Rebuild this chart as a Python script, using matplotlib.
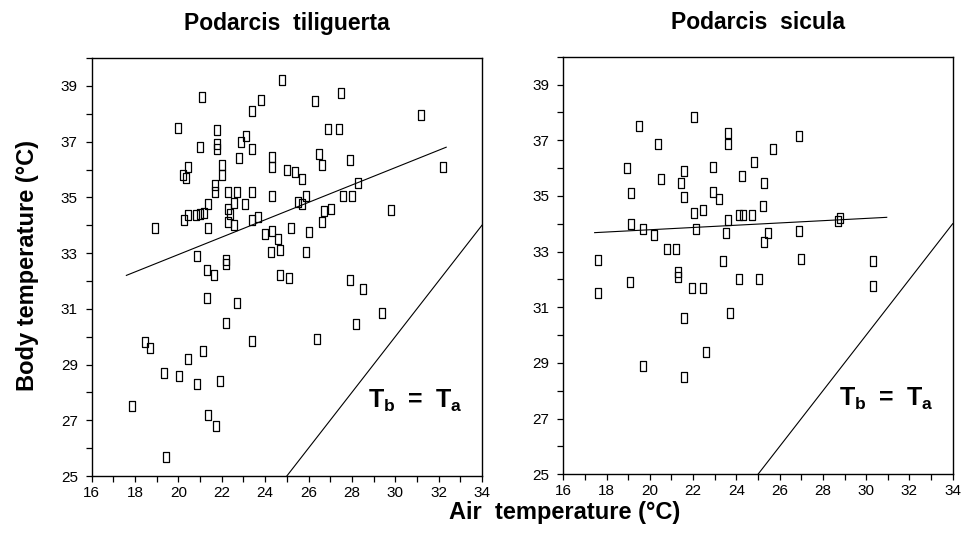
import numpy as np
import matplotlib
matplotlib.use("Agg")
import matplotlib.pyplot as plt
from matplotlib.ticker import MultipleLocator

plt.rcParams["font.family"] = ["Liberation Sans", "DejaVu Sans"]
plt.rcParams["mathtext.fontset"] = "custom"
plt.rcParams["mathtext.rm"] = "Liberation Sans"
plt.rcParams["mathtext.bf"] = "Liberation Sans:bold"

# Podarcis tiliguerta: air temperature, body temperature
tili_ta = [24.8, 21.1, 23.8, 23.4, 20.0, 21.8, 23.1, 22.9, 21.0, 21.8,
           21.8, 23.4, 22.8, 24.3, 24.3, 25.0, 20.45, 20.2, 20.35, 22.0,
           22.0, 21.7, 21.7, 22.3, 22.7, 23.4, 24.3, 22.55, 23.05, 21.35,
           22.3, 21.2, 21.0, 20.8, 20.45, 20.25, 22.4, 22.3, 22.55, 23.4,
           23.65, 21.35, 18.9, 24.0, 24.3, 24.6, 25.2, 24.25, 24.7, 20.85,
           22.2, 22.2, 27.5, 26.3, 31.2, 26.9, 27.4, 26.5, 26.6, 27.9,
           25.4, 25.7, 32.2, 28.3, 25.9, 25.7, 25.5, 27.6, 28.0, 26.7,
           27.05, 29.8, 26.6, 26.0, 25.9, 21.3, 21.65, 24.7, 25.1, 21.3,
           22.7, 22.2, 23.4, 18.45, 18.7, 21.15, 20.45, 19.35, 20.05, 20.85,
           21.9, 17.85, 21.35, 21.75, 19.45, 27.9, 28.5, 29.4, 28.2, 26.4]
tili_tb = [39.2, 38.6, 38.5, 38.1, 37.5, 37.4, 37.2, 37.0, 36.8, 36.9,
           36.75, 36.75, 36.4, 36.45, 36.1, 36.0, 36.1, 35.8, 35.7, 36.15,
           35.8, 35.45, 35.2, 35.2, 35.2, 35.2, 35.05, 34.8, 34.75, 34.75,
           34.6, 34.45, 34.4, 34.35, 34.35, 34.2, 34.4, 34.1, 34.0, 34.2,
           34.3, 33.9, 33.9, 33.7, 33.8, 33.5, 33.9, 33.05, 33.1, 32.9,
           32.75, 32.6, 38.75, 38.45, 37.95, 37.45, 37.45, 36.55, 36.15, 36.35,
           35.9, 35.65, 36.1, 35.5, 35.05, 34.75, 34.85, 35.05, 35.05, 34.5,
           34.6, 34.55, 34.1, 33.75, 33.05, 32.4, 32.2, 32.2, 32.1, 31.4,
           31.2, 30.5, 29.85, 29.8, 29.6, 29.5, 29.2, 28.7, 28.6, 28.3,
           28.4, 27.5, 27.2, 26.8, 25.7, 32.05, 31.7, 30.85, 30.45, 29.9]
tili_fit_x = [17.6, 32.35]
tili_fit_y = [32.2, 36.8]

# Podarcis sicula
sic_ta = [22.05, 19.5, 23.6, 23.6, 20.4, 18.95, 21.6, 22.9, 24.8, 20.5,
          21.45, 24.25, 19.15, 21.6, 22.9, 23.2, 22.05, 22.45, 24.1, 24.3,
          24.7, 19.15, 23.6, 19.7, 20.2, 22.15, 23.5, 20.8, 21.2, 17.6,
          23.4, 26.9, 25.7, 25.3, 25.25, 28.8, 28.7, 25.45, 25.3, 26.9,
          27.0, 30.3, 19.1, 17.6, 21.3, 21.3, 21.95, 22.45, 24.1, 25.05,
          23.7, 21.6, 22.6, 19.7, 21.6, 30.3]
sic_tb = [37.85, 37.5, 37.25, 36.85, 36.85, 36.0, 35.9, 36.05, 36.2, 35.6,
          35.45, 35.7, 35.1, 34.95, 35.15, 34.9, 34.4, 34.5, 34.3, 34.3,
          34.3, 34.0, 34.15, 33.8, 33.6, 33.8, 33.65, 33.1, 33.1, 32.7,
          32.65, 37.15, 36.7, 35.45, 34.65, 34.2, 34.1, 33.65, 33.35, 33.75,
          32.75, 32.65, 31.9, 31.5, 32.25, 32.1, 31.7, 31.7, 32.0, 32.0,
          30.8, 30.6, 29.4, 28.9, 28.5, 31.75]
sic_fit_x = [17.45, 30.95]
sic_fit_y = [33.68, 34.23]

equal_line = [25, 34]

# tall open rectangle, like the scanned symbols
rect_marker = [(-0.36, -0.5), (0.36, -0.5), (0.36, 0.5), (-0.36, 0.5), (-0.36, -0.5)]


def draw_panel(ax, ta, tb, fit_x, fit_y, title):
    ax.plot(ta, tb, linestyle="none", marker=rect_marker, markersize=7,
            markerfacecolor="none", markeredgecolor="black", markeredgewidth=0.9)
    ax.plot(fit_x, fit_y, color="black", linewidth=0.8)
    ax.plot(equal_line, equal_line, color="black", linewidth=0.8)
    ax.set_xlim(16, 34)
    ax.set_ylim(25, 40)
    ax.xaxis.set_major_locator(MultipleLocator(2))
    ax.xaxis.set_minor_locator(MultipleLocator(1))
    ax.set_yticks(np.arange(25, 40, 2))
    ax.yaxis.set_minor_locator(MultipleLocator(1))
    ax.tick_params(which="both", direction="out", length=4, width=0.9,
                   labelsize=11, pad=3)
    ax.tick_params(axis="y", pad=6)
    for s in ax.spines.values():
        s.set_linewidth(1.0)
    ax.text(30.95, 27.7, r"$\mathbf{T_b\ =\ T_a}$", fontsize=18,
            ha="center", va="center")
    ax.set_title(title, fontsize=16.5, fontweight="bold", pad=20)


fig = plt.figure(figsize=(9.68, 5.4), dpi=100)
ax1 = fig.add_axes([0.0947, 0.1185, 0.4032, 0.774])
ax2 = fig.add_axes([0.5819, 0.1217, 0.4023, 0.7733])

draw_panel(ax1, tili_ta, tili_tb, tili_fit_x, tili_fit_y, "Podarcis  tiliguerta")
draw_panel(ax2, sic_ta, sic_tb, sic_fit_x, sic_fit_y, "Podarcis  sicula")

fig.text(0.028, 0.509, "Body temperature (°C)", fontsize=17, fontweight="bold",
         rotation=90, ha="center", va="center")
fig.text(0.583, 0.05, "Air  temperature (°C)", fontsize=17, fontweight="bold",
         ha="center", va="center")

fig.savefig("out.png", dpi=100)
